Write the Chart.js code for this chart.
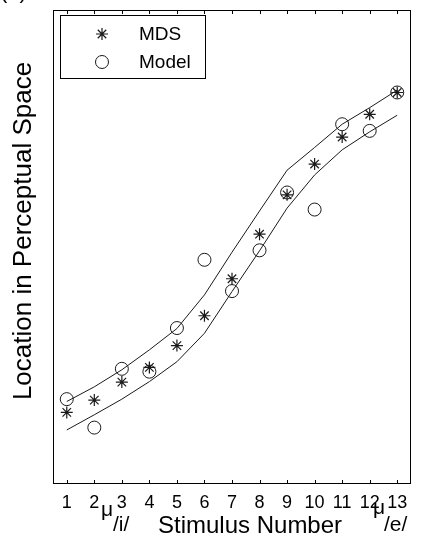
<!DOCTYPE html>
<html>
<head>
<meta charset="utf-8">
<script src="https://cdn.jsdelivr.net/npm/chart.js@4.4.1/dist/chart.umd.min.js"></script>
<style>
  html, body { margin: 0; padding: 0; background: #fff; }
  #wrap { width: 429px; height: 542px; }
</style>
</head>
<body>
<div id="wrap"><canvas id="myChart" width="429" height="542"></canvas></div>
<script>
'use strict';

// stimulus numbers along the x axis
var stimuli = [1, 2, 3, 4, 5, 6, 7, 8, 9, 10, 11, 12, 13];

// location in perceptual space (arbitrary units, 0 = bottom of the frame, 100 = top)
var mdsLocations   = [15.1, 17.7, 21.5, 24.6, 29.2, 35.5, 43.3, 52.7, 61.0, 67.5, 73.2, 78.0, 82.6];
var modelLocations = [17.9, 11.9, 24.3, 23.7, 32.9, 47.3, 40.7, 49.3, 61.5, 57.9, 75.9, 74.5, 82.6];
var upperBound     = [17.4, 20.5, 24.1, 28.3, 32.8, 39.9, 48.9, 57.6, 66.2, 71.0, 75.9, 79.4, 83.1];
var lowerBound     = [11.4, 14.6, 17.9, 21.6, 25.8, 31.8, 40.6, 49.2, 58.2, 65.2, 70.5, 74.3, 77.8];

var FONT = '"Liberation Sans", Arial, Helvetica, sans-serif';
var INK = '#1a1a1a';

function toPoints(values) {
  return stimuli.map(function (x, i) { return { x: x, y: values[i] }; });
}

// frame, inward ticks, boxed legend and the axis texts
var decorations = {
  id: 'decorations',
  afterDraw: function (chart) {
    var ctx = chart.ctx;
    var area = chart.chartArea;
    var xs = chart.scales.x;
    ctx.save();

    // frame
    ctx.strokeStyle = '#000';
    ctx.lineWidth = 1;
    ctx.strokeRect(area.left + 0.5, area.top + 0.5, area.right - area.left - 1, area.bottom - area.top - 1);

    // tick marks pointing inward, top and bottom
    ctx.beginPath();
    stimuli.forEach(function (v) {
      var px = Math.round(xs.getPixelForValue(v)) + 0.5;
      ctx.moveTo(px, area.bottom);
      ctx.lineTo(px, area.bottom - 4);
      ctx.moveTo(px, area.top);
      ctx.lineTo(px, area.top + 4);
    });
    ctx.stroke();

    // legend box
    ctx.fillStyle = '#fff';
    ctx.fillRect(61, 16, 144, 62);
    ctx.strokeRect(60.5, 15.5, 145, 63);

    var entries = [
      { label: 'MDS', ds: chart.data.datasets[0], y: 34 },
      { label: 'Model', ds: chart.data.datasets[1], y: 62 }
    ];
    entries.forEach(function (e) {
      ctx.strokeStyle = e.ds.borderColor;
      ctx.fillStyle = 'rgba(0,0,0,0)';
      ctx.lineWidth = e.ds.borderWidth;
      Chart.helpers.drawPoint(ctx, {
        pointStyle: e.ds.pointStyle,
        radius: e.ds.pointRadius,
        borderWidth: e.ds.borderWidth,
        rotation: 0
      }, 102, e.y);
      ctx.fillStyle = '#000';
      ctx.font = '19px ' + FONT;
      ctx.textAlign = 'left';
      ctx.textBaseline = 'middle';
      ctx.fillText(e.label, 139, e.y + 1);
    });

    ctx.fillStyle = '#000';
    ctx.textBaseline = 'alphabetic';

    // panel letter, cut off by the top edge
    ctx.font = '22px ' + FONT;
    ctx.fillText('(b)', 0, -2);

    // y title
    ctx.save();
    ctx.translate(31, 231);
    ctx.rotate(-Math.PI / 2);
    ctx.textAlign = 'center';
    ctx.font = '26px ' + FONT;
    ctx.fillText('Location in Perceptual Space', 0, 0);
    ctx.restore();

    // x title with the two vowel markers
    ctx.textAlign = 'left';
    ctx.font = '24px ' + FONT;
    ctx.fillText('Stimulus Number', 158, 533);
    ctx.font = '21px ' + FONT;
    ctx.fillText('\u03bc', 101, 516);
    ctx.fillText('\u03bc', 373, 514);
    ctx.fillText('/i/', 113, 531);
    ctx.fillText('/e/', 384, 531);

    ctx.restore();
  }
};

var ctx = document.getElementById('myChart').getContext('2d');

var myChart = new Chart(ctx, {
  type: 'scatter',
  data: {
    datasets: [
      {
        label: 'MDS',
        data: toPoints(mdsLocations),
        pointStyle: 'star',
        pointRadius: 6,
        borderWidth: 1.2,
        borderColor: INK,
        backgroundColor: 'rgba(0,0,0,0)',
        showLine: false
      },
      {
        label: 'Model',
        data: toPoints(modelLocations),
        pointStyle: 'circle',
        pointRadius: 6.5,
        borderWidth: 1,
        borderColor: INK,
        backgroundColor: 'rgba(0,0,0,0)',
        showLine: false
      },
      {
        label: 'upper',
        data: toPoints(upperBound),
        showLine: true,
        pointRadius: 0,
        borderWidth: 1,
        borderColor: INK,
        tension: 0
      },
      {
        label: 'lower',
        data: toPoints(lowerBound),
        showLine: true,
        pointRadius: 0,
        borderWidth: 1,
        borderColor: INK,
        tension: 0
      }
    ]
  },
  options: {
    responsive: false,
    animation: false,
    events: [],
    layout: {
      autoPadding: false,
      padding: { left: 53, right: 18, top: 10, bottom: 0 }
    },
    plugins: {
      legend: { display: false },
      tooltip: { enabled: false }
    },
    scales: {
      x: {
        type: 'linear',
        min: 0.5,
        max: 13.5,
        grid: { display: false, drawTicks: false },
        border: { display: false },
        afterBuildTicks: function (scale) {
          scale.ticks = stimuli.map(function (v) { return { value: v }; });
        },
        afterFit: function (scale) {
          scale.height = 58;
        },
        ticks: {
          autoSkip: false,
          maxRotation: 0,
          padding: 8,
          color: '#000',
          font: { family: FONT, size: 18 }
        }
      },
      y: {
        type: 'linear',
        display: false,
        min: 0,
        max: 100
      }
    }
  },
  plugins: [decorations]
});
</script>
</body>
</html>
